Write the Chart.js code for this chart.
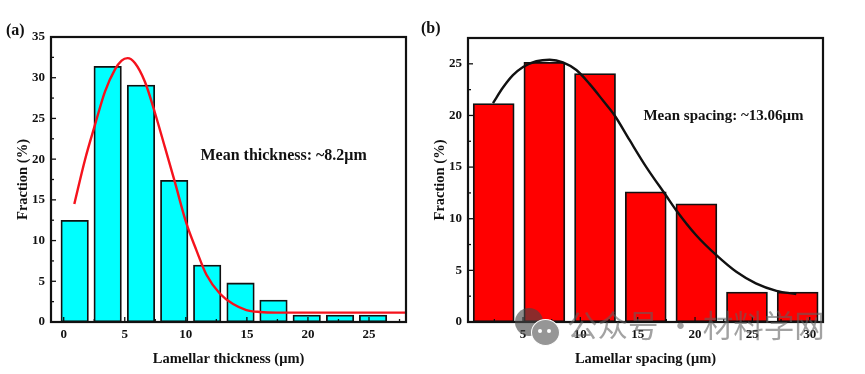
<!DOCTYPE html>
<html>
<head>
<meta charset="utf-8">
<title>Lamellar thickness and spacing</title>
<script src="https://cdn.jsdelivr.net/npm/chart.js@4/dist/chart.umd.js"></script>
<style>
  html, body {margin: 0; padding: 0; background: #fff;}
  #wrap {position: relative; width: 865px; height: 374px; overflow: hidden;}
  canvas {position: absolute; top: 0;}
  #chartA {left: 0;}
  #chartB {left: 420px;}
  .panel {position: absolute; font: bold 16px "Liberation Serif"; color: #111;}
  #mark {position: absolute; left: 567px; top: 305px; font: 30.5px "Noto Sans CJK SC"; line-height: 38px; color: rgba(95,95,95,0.58); white-space: nowrap;}
  .bubble {position: absolute; border-radius: 50%;}
  .eye {position: absolute; border-radius: 50%; background: #fff; width: 4px; height: 4px;}
</style>
</head>
<body>
<div id="wrap">
  <canvas id="chartA" width="420" height="374"></canvas>
  <canvas id="chartB" width="445" height="374"></canvas>
  <div class="panel" style="left:6px;top:21px">(a)</div>
  <div class="panel" style="left:421px;top:19px">(b)</div>
  <div class="bubble" style="left:515px;top:308px;width:28px;height:28px;background:rgba(70,70,70,0.62)"></div>
  <div class="bubble" style="left:531px;top:319px;width:27px;height:25px;background:rgb(150,150,150);border:1px solid #fff"></div>
  <div class="eye" style="left:538px;top:329px"></div>
  <div class="eye" style="left:547px;top:329px"></div>
  <div id="mark">公众号 · 材料学网</div>
</div>
<script>
// (a) thickness histogram
const thicknessCenters = [0.9, 3.6, 6.33, 9.05, 11.75, 14.48, 17.18, 19.9, 22.63, 25.33];
const thicknessValues = [12.5, 31.4, 29.1, 17.4, 7.0, 4.8, 2.7, 0.85, 0.85, 0.85];
const thicknessCurveX = [0.87, 1.74, 2.56, 3.38, 4.19, 4.74, 5.23, 5.83, 6.65, 7.47, 8.28, 9.1, 10.05, 10.87, 11.69, 12.78, 13.87, 14.96, 16.05, 17.4, 20.7, 28];
const thicknessCurveY = [14.5, 19.9, 24.2, 28.3, 31.0, 32.1, 32.4, 31.8, 29.5, 25.7, 21.5, 17.2, 12.1, 8.8, 5.8, 3.5, 2.2, 1.47, 1.23, 1.15, 1.15, 1.15];

// (b) spacing histogram
const spacingCenters = [2.44, 6.86, 11.28, 15.7, 20.12, 24.53, 28.95];
const spacingValues = [21.15, 25.15, 24.05, 12.6, 11.45, 2.9, 2.9];
const spacingCurveX = [2.38, 3.25, 4.12, 5.0, 6.16, 7.32, 8.48, 9.65, 10.8, 11.97, 12.99, 14.3, 15.75, 17.5, 18.37, 20.1, 21.86, 23.6, 25.3, 27.1, 28.83];
const spacingCurveY = [21.2, 22.7, 23.9, 24.7, 25.25, 25.4, 25.15, 24.4, 23.06, 21.45, 20.0, 17.6, 15.0, 12.2, 10.8, 8.4, 6.47, 4.86, 3.74, 3.02, 2.7];

const serif = "Liberation Serif";
const ink = "#111";

function pairs(xs, ys) {
  return xs.map((x, i) => ({x: x, y: ys[i]}));
}

// inward ticks, frame and the "Mean ..." note
const framePlugin = {
  id: "frame",
  afterDraw(chart, args, opts) {
    const c = chart.ctx, a = chart.chartArea;
    const sx = chart.scales.x, sy = chart.scales.y;
    c.save();
    c.strokeStyle = ink;
    c.lineWidth = 1.3;
    sx.ticks.forEach(t => {
      const px = sx.getPixelForValue(t.value);
      c.beginPath();
      c.moveTo(px, a.bottom);
      c.lineTo(px, a.bottom - (t.value % 5 === 0 ? 5 : 3));
      c.stroke();
    });
    sy.ticks.forEach(t => {
      const py = sy.getPixelForValue(t.value);
      c.beginPath();
      c.moveTo(a.left, py);
      c.lineTo(a.left + (t.value % 5 === 0 ? 5 : 3), py);
      c.stroke();
    });
    c.lineWidth = 2.2;
    c.strokeRect(a.left, a.top, a.right - a.left, a.bottom - a.top);
    c.fillStyle = ink;
    c.font = "bold " + opts.noteSize + "px '" + serif + "'";
    c.textBaseline = "middle";
    c.fillText(opts.note, sx.getPixelForValue(opts.noteX), sy.getPixelForValue(opts.noteY));
    c.restore();
  }
};

function histogram(id, cfg) {
  return new Chart(document.getElementById(id), {
    data: {
      datasets: [
        {
          type: "line",
          data: pairs(cfg.curveX, cfg.curveY),
          borderColor: cfg.lineColor,
          borderWidth: 2.4,
          pointRadius: 0,
          cubicInterpolationMode: "monotone",
          order: 0
        },
        {
          type: "bar",
          data: pairs(cfg.centers, cfg.values),
          backgroundColor: cfg.barColor,
          borderColor: ink,
          borderWidth: 1.8,
          borderSkipped: false,
          barThickness: cfg.barWidth,
          order: 1
        }
      ]
    },
    options: {
      responsive: false,
      animation: false,
      layout: {padding: cfg.padding},
      plugins: {
        legend: {display: false},
        tooltip: {enabled: false},
        frame: {note: cfg.note, noteX: cfg.noteX, noteY: cfg.noteY, noteSize: cfg.noteSize}
      },
      scales: {
        x: {
          type: "linear",
          min: cfg.xMin,
          max: cfg.xMax,
          offset: false,
          afterFit(s) { s.height = 52; },
          grid: {display: false, drawTicks: false},
          border: {display: false},
          ticks: {
            stepSize: 2.5,
            includeBounds: false,
            autoSkip: false,
            maxRotation: 0,
            padding: 5,
            color: ink,
            font: {family: serif, size: 13, weight: "bold"},
            callback: v => (v % 5 === 0 ? v : "")
          },
          title: {
            display: true,
            text: cfg.xTitle,
            color: ink,
            font: {family: serif, size: 14.5, weight: "bold"},
            padding: {top: 0, bottom: 6}
          }
        },
        y: {
          min: 0,
          max: cfg.yMax,
          afterFit(s) { s.width = cfg.axisWidth; },
          grid: {display: false, drawTicks: false},
          border: {display: false},
          ticks: {
            stepSize: 2.5,
            includeBounds: false,
            autoSkip: false,
            padding: 6,
            color: ink,
            font: {family: serif, size: 13, weight: "bold"},
            callback: v => (v % 5 === 0 ? v : "")
          },
          title: {
            display: true,
            text: "Fraction (%)",
            color: ink,
            font: {family: serif, size: 14.5, weight: "bold"},
            padding: {top: cfg.titleInset, bottom: 0}
          }
        }
      }
    },
    plugins: [framePlugin]
  });
}

histogram("chartA", {
  centers: thicknessCenters,
  values: thicknessValues,
  curveX: thicknessCurveX,
  curveY: thicknessCurveY,
  barColor: "#00ffff",
  lineColor: "#f5121c",
  barWidth: 27.5,
  xMin: -1.04,
  xMax: 28.03,
  yMax: 35,
  axisWidth: 51,
  titleInset: 15,
  padding: {left: 0, top: 37, right: 14, bottom: 0},
  note: "Mean thickness: ~8.2μm",
  noteSize: 16,
  noteX: 11.2,
  noteY: 20.4,
  xTitle: "Lamellar thickness (μm)"
});

histogram("chartB", {
  centers: spacingCenters,
  values: spacingValues,
  curveX: spacingCurveX,
  curveY: spacingCurveY,
  barColor: "#ff0000",
  lineColor: "#111",
  barWidth: 41,
  xMin: 0.2,
  xMax: 31.16,
  yMax: 27.5,
  axisWidth: 48,
  titleInset: 12,
  padding: {left: 0, top: 38, right: 42, bottom: 0},
  note: "Mean spacing: ~13.06μm",
  noteSize: 15,
  noteX: 15.5,
  noteY: 19.9,
  xTitle: "Lamellar spacing (μm)"
});
</script>
</body>
</html>
